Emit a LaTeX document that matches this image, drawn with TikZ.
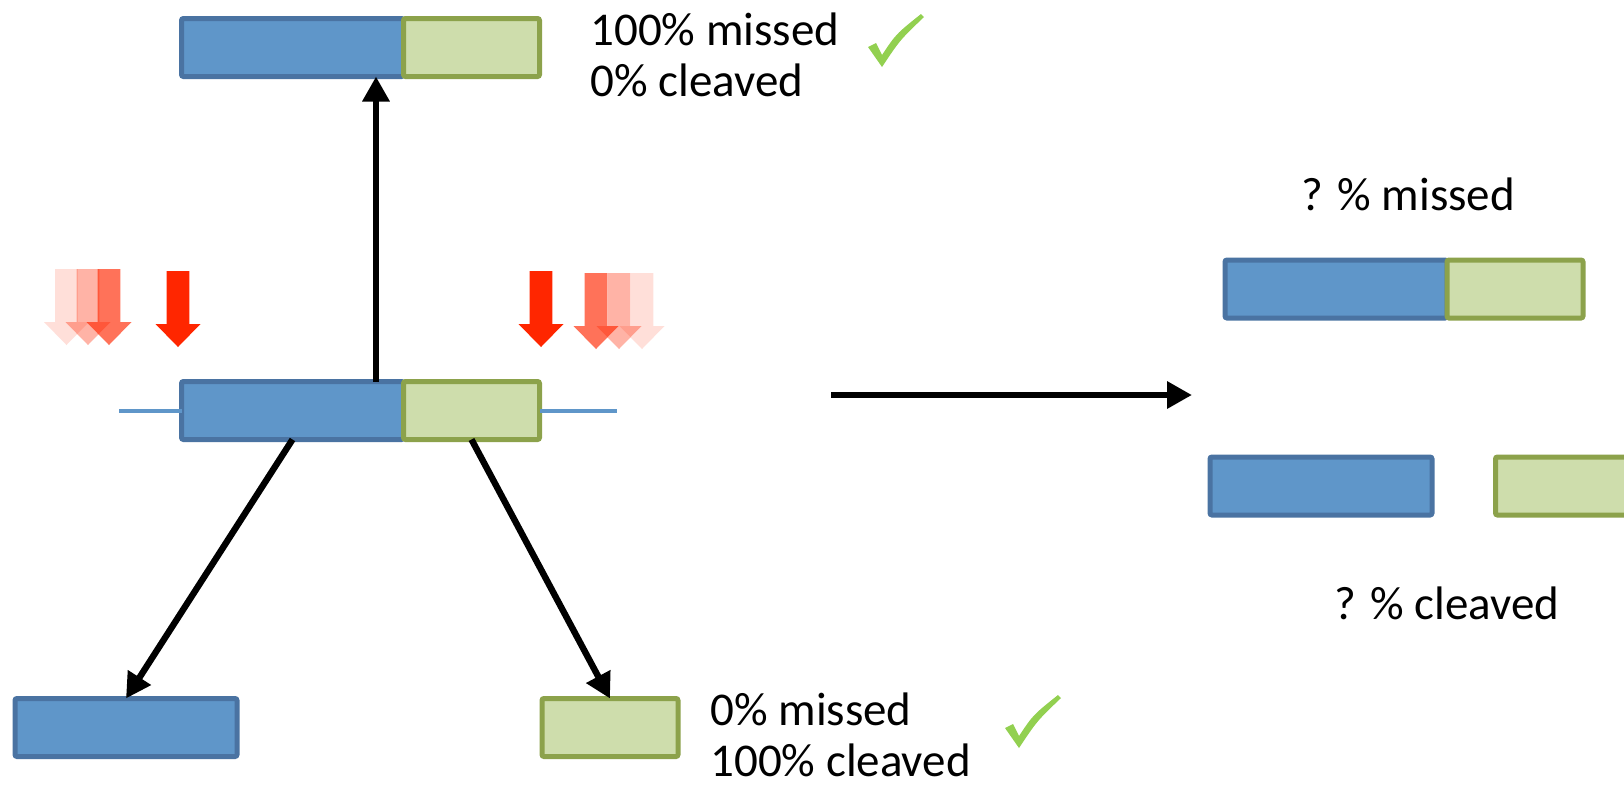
\documentclass[tikz,border=0pt]{standalone}
\usepackage{fontspec}
\setmainfont{Carlito}
\usepackage{xcolor}
\usepackage{tikz}
\usetikzlibrary{arrows.meta,positioning,calc}
\definecolor{SegBlue}{HTML}{5F96C9}
\definecolor{SegBlueDark}{HTML}{4A73A2}
\definecolor{SegGreen}{HTML}{CEDDAC}
\definecolor{SegGreenDark}{HTML}{8CA24B}
\definecolor{CutRed}{HTML}{FF2600}
\definecolor{TickGreen}{HTML}{92D050}
\tikzset{
  blueseg/.style={draw=SegBlueDark,fill=SegBlue,line width=2.5pt,rounded corners=1pt,minimum width=111pt,minimum height=29pt,inner sep=0pt,outer sep=0pt},
  greenseg/.style={draw=SegGreenDark,fill=SegGreen,line width=2.5pt,rounded corners=1pt,minimum width=68pt,minimum height=29pt,inner sep=0pt,outer sep=0pt},
  flowarrow/.style={-{Triangle[length=12.5pt,width=13pt]},line width=3.2pt,draw=black},
  linkerline/.style={line width=2pt,draw=SegBlue},
  pctlabel/.style={font=\fontsize{23.5}{25.8}\selectfont,inner sep=0pt,align=left},
  redcut/.pic={\path[pic actions] (-11.3,0) -- (11.3,0) -- (11.3,53) -- (22.5,53) -- (0,76) -- (-22.5,53) -- (-11.3,53) -- cycle;},
  checkmark/.pic={\fill[TickGreen] (0,33) -- (8,29) -- (14,41) .. controls (28,20) .. (53,0) -- (56,3) .. controls (32,26) .. (14,53) -- cycle;}
}
\begin{document}
\begin{tikzpicture}[x=0.5pt,y=-0.5pt]
\useasboundingbox (0,0) rectangle (1624,784);
% substrate and products
\node[blueseg] (missL) at (292.5,47.5) {};
\node[greenseg,right=0pt of missL] (missR) {};
\node[blueseg] (subL) at (292.5,410.5) {};
\node[greenseg,right=0pt of subL] (subR) {};
\node[blueseg] (cutL) at (126,727.5) {};
\node[greenseg] (cutR) at (610,727.5) {};
\draw[linkerline] ($(subL.west)+(-62.5,0)$) -- (subL.west);
\draw[linkerline] (subR.east) -- ($(subR.east)+(77.5,0)$);
% mixture
\node[blueseg] (mixL) at (1336,289) {};
\node[greenseg,right=0pt of mixL] (mixR) {};
\node[blueseg] (fragL) at (1321,486) {};
\node[greenseg,anchor=west] (fragR) at (1495.5,486) {};
% cut sites
\foreach \cx/\cy/\op in {66.5/269/0.15,88/269/0.35,109/269/0.65,596/273/0.65,619/273/0.35,642/273/0.15}
  \pic[fill=CutRed,fill opacity=\op] at (\cx,\cy) {redcut};
\pic[fill=CutRed] at (178,271) {redcut};
\pic[fill=CutRed] at (541,271) {redcut};
% arrows
\draw[flowarrow] ($(subL.north)+(83.5,0)$) -- ($(missL.south)+(83.5,0)$);
\draw[flowarrow] (subL.south) -- (cutL.north);
\draw[flowarrow] (subR.south) -- (cutR.north);
\coordinate (mixfrom) at (831,395);
\coordinate (mixto) at (1192,395);
\draw[flowarrow] (mixfrom) -- (mixto);
% labels
\node[pctlabel,anchor=base west] (misslbl) at (590,96.7) {100\% missed\\0\% cleaved};
\node[pctlabel,anchor=base west] (cutlbl) at (710,776.7) {0\% missed\\100\% cleaved};
\node[pctlabel,anchor=base] (mixlbl) at (1408.4,210.7) {? \% missed};
\node[pctlabel,anchor=base] (fraglbl) at (1446.7,619) {? \% cleaved};
\pic at (868,14) {checkmark};
\pic at (1005,695) {checkmark};
\end{tikzpicture}
\end{document}
